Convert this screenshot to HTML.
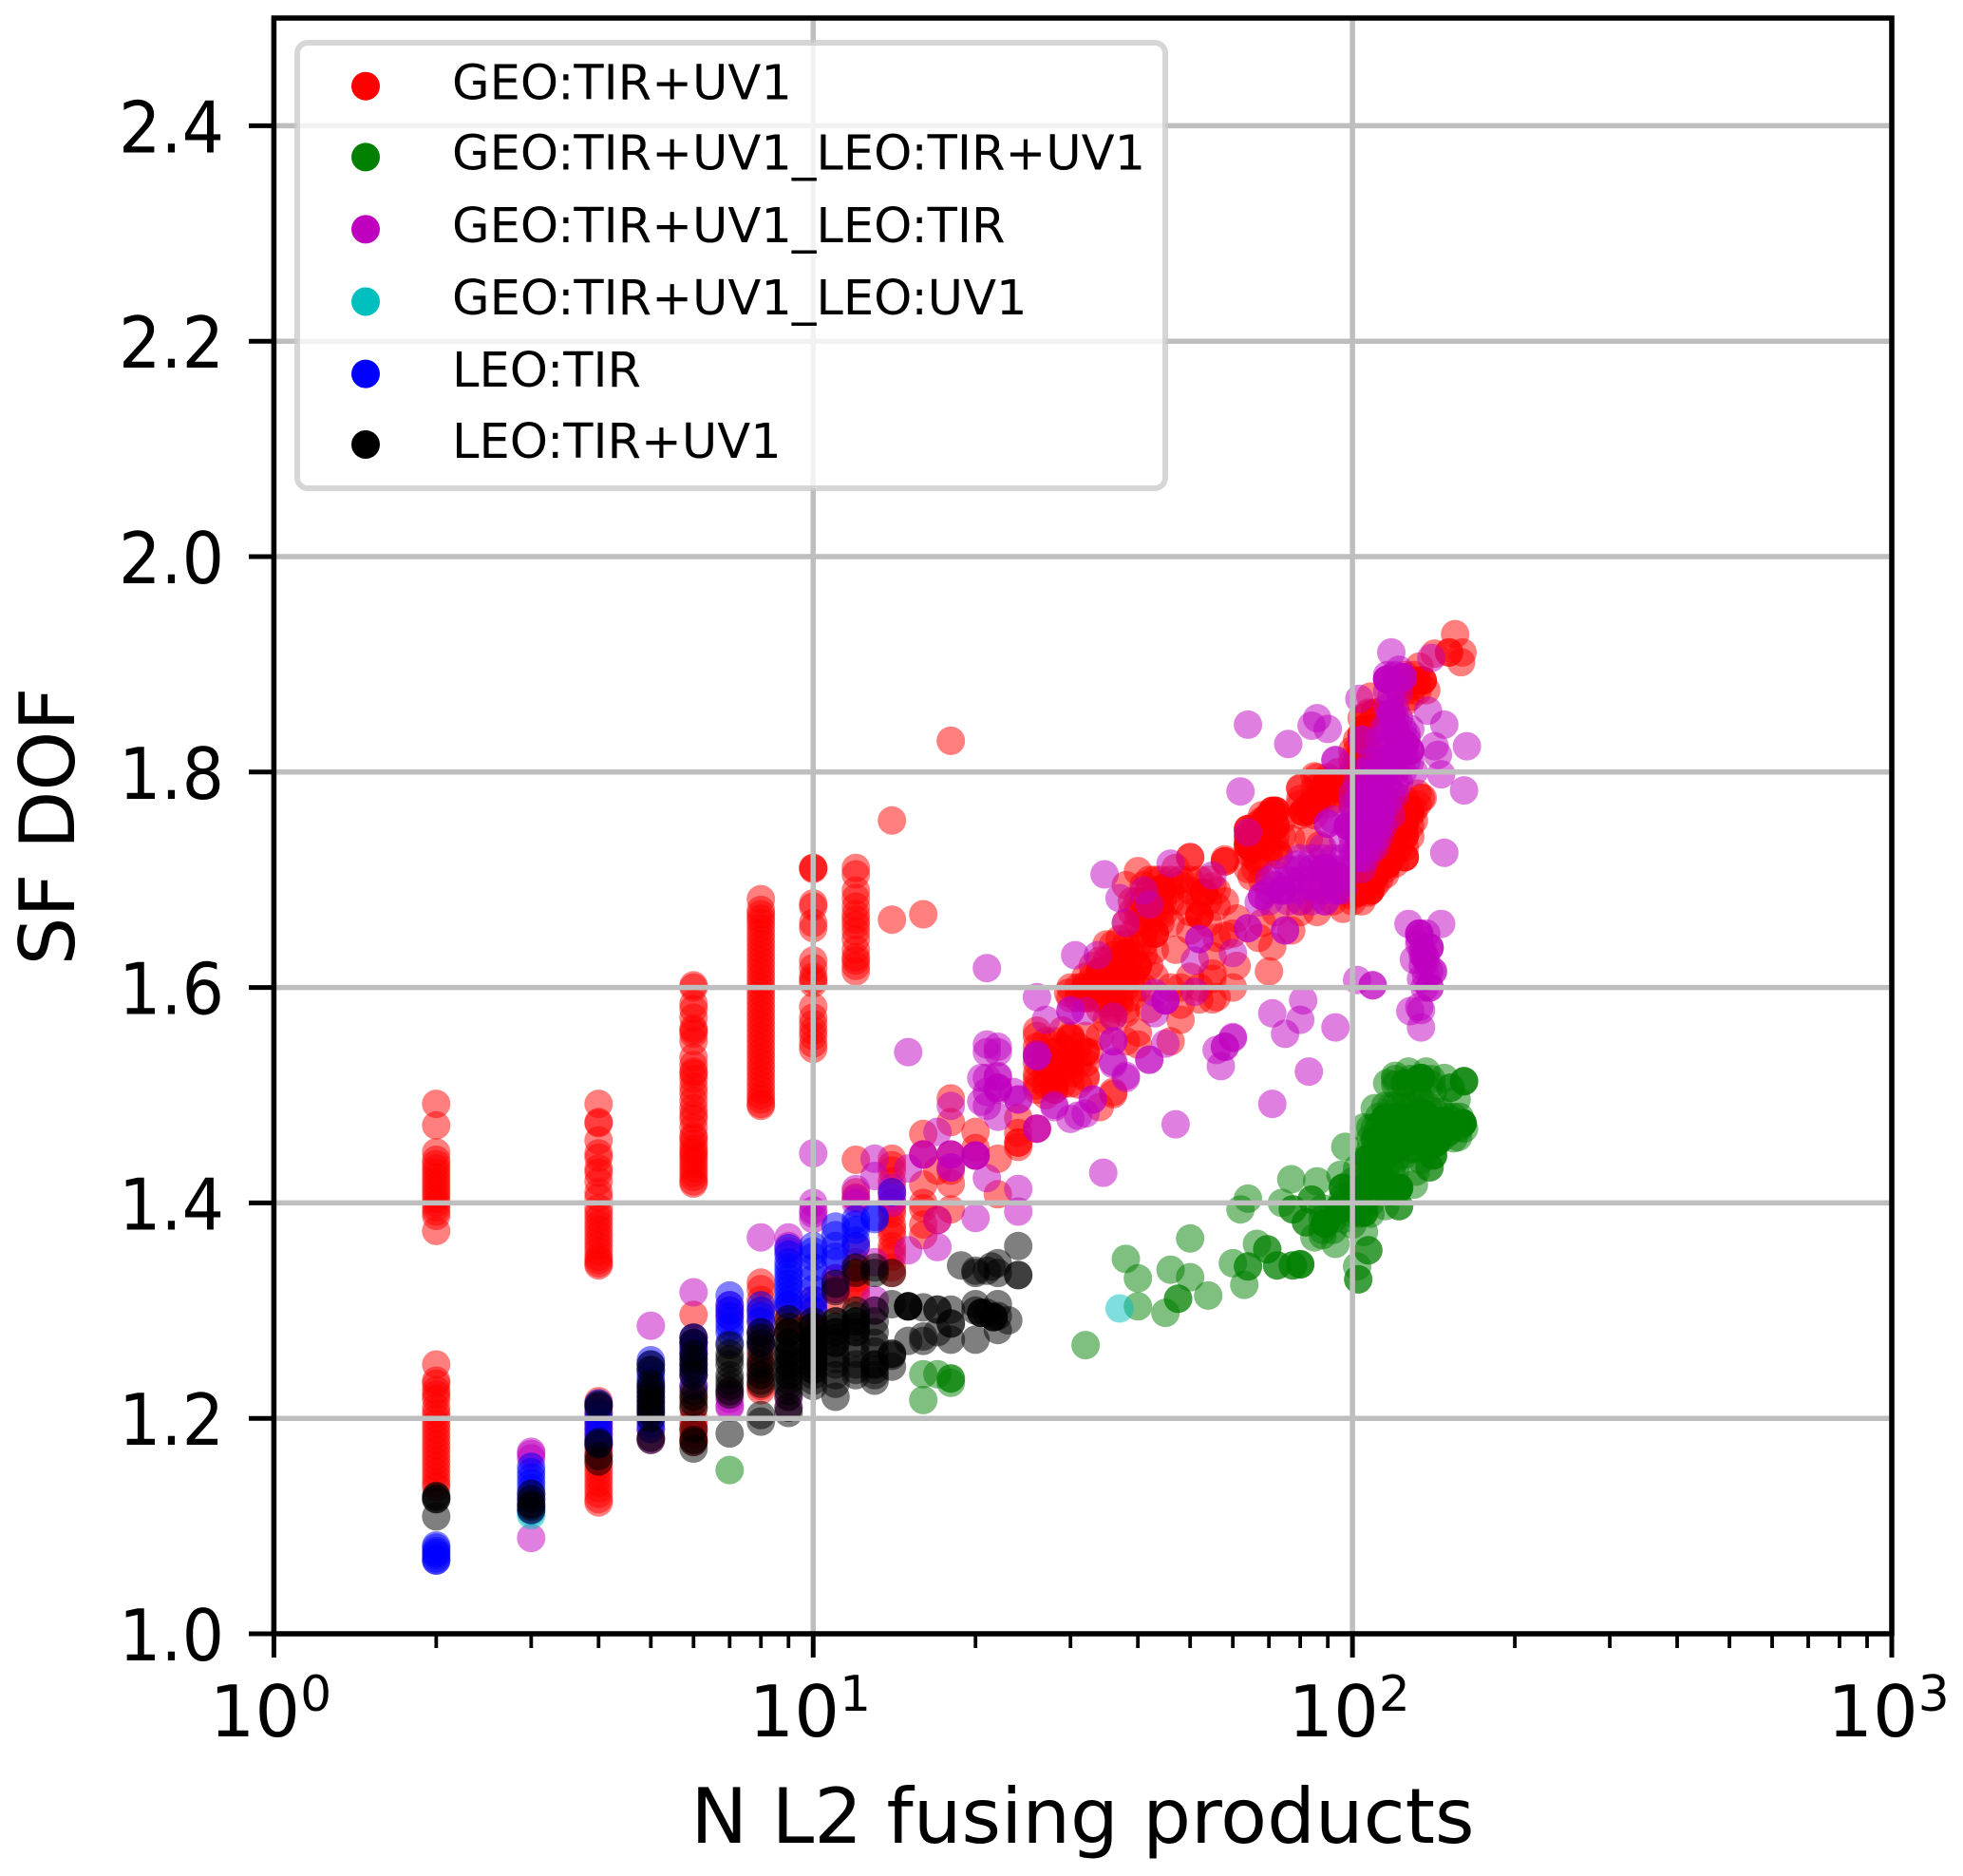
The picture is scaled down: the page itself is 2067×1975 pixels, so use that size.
<!DOCTYPE html>
<html lang="en">
<head>
<meta charset="utf-8">
<title>SF DOF vs N L2 fusing products</title>
<style>
html,body{margin:0;padding:0;background:#fff}
svg{display:block;font-family:"DejaVu Sans","Liberation Sans",sans-serif}
</style>
</head>
<body>
<svg id="chart" xmlns="http://www.w3.org/2000/svg" width="2067" height="1975" viewBox="0 0 2067 1975">
<rect x="0" y="0" width="2067" height="1975" fill="#ffffff"/>
<g id="points"></g>
<g id="grid"></g>
<g id="legend"></g>
<g id="axes"></g>
</svg>
<script>
// Each row: first number is N L2 fusing products, the rest are SF DOF readings at that N.
const geoTirUv1 = [
[2,1.492,1.472,1.447,1.44,1.436,1.432,1.428,1.424,1.42,1.416,1.412,1.408,1.404,1.40,1.396,1.392,1.388,1.374],
[2,1.25,1.235,1.232,1.226,1.222,1.218,1.21,1.205,1.2,1.195,1.19,1.185,1.18,1.175,1.17,1.165,1.16,1.155,1.15,1.145,1.14,1.136],
[4,1.492,1.475,1.474,1.458,1.446,1.442,1.432,1.428,1.42,1.41,1.405,1.395,1.39,1.385,1.38,1.375,1.37,1.365,1.36,1.355,1.35,1.347,1.344,1.342],
[4,1.216,1.21,1.205,1.2,1.195,1.19,1.185,1.18,1.175,1.17,1.165,1.16,1.155,1.15,1.145,1.14,1.135,1.13,1.125,1.122],
[6,1.602,1.600,1.585,1.58,1.572,1.562,1.56,1.557,1.55,1.535,1.528,1.522,1.52,1.515,1.508,1.502,1.495,1.488,1.482,1.478,1.47,1.462,1.46,1.455,1.45,1.447,1.444,1.44,1.436,1.432,1.428,1.424,1.42,1.418],
[6,1.296,1.27,1.265,1.26,1.25,1.24,1.23,1.22,1.21,1.2,1.195,1.19,1.185,1.18,1.178],
[8,1.682,1.672,1.668,1.664,1.66,1.655,1.65,1.645,1.64,1.635,1.63,1.625,1.62,1.615,1.61,1.605,1.6,1.595,1.59,1.585,1.58,1.575,1.57,1.565,1.56,1.555,1.55,1.545,1.54,1.535,1.53,1.525,1.52,1.515,1.51,1.505,1.5,1.496,1.492,1.49],
[8,1.326,1.32,1.31,1.30,1.29,1.28,1.27,1.26,1.25,1.24,1.23,1.226],
[10,1.711,1.711,1.71,1.678,1.675,1.66,1.655,1.625,1.618,1.61,1.607,1.604,1.582,1.572,1.566,1.56,1.555,1.548,1.543],
[10,1.31,1.3,1.29,1.28,1.27,1.26],
[9,1.3,1.29,1.28],
[11,1.33,1.32,1.31],
[12,1.711,1.705,1.69,1.683,1.675,1.668,1.663,1.658,1.652,1.645,1.635,1.628,1.625,1.62,1.615],
[12,1.44,1.41,1.405,1.36,1.345,1.34,1.335,1.33,1.325,1.32,1.315],
[14,1.755,1.663,1.441,1.435,1.43,1.42,1.41,1.40,1.39,1.38,1.37,1.36,1.35,1.34,1.335,1.395,1.375,1.355],
[16,1.668,1.464,1.445,1.417,1.40,1.395,1.37,1.38],
[17,1.384,1.43],
[18,1.829,1.497,1.475,1.445,1.43,1.418,1.394],
[20,1.466,1.451,1.444],
[22,1.441,1.408],
[24,1.479,1.465,1.456,1.456,1.452],
[26,1.509,1.555,1.538,1.52,1.505,1.469,1.53,1.545,1.515,1.56],
[27,1.529,1.529,1.51,1.52,1.535,1.55,1.50],
[28,1.54,1.54,1.52,1.52,1.52,1.514,1.505,1.505,1.53,1.55,1.51,1.525],
[29,1.53,1.52,1.545,1.51,1.56],
[29.7,1.595],
[30,1.553,1.553,1.538,1.529,1.529,1.511,1.53,1.52,1.54,1.555,1.60,1.59],
[31,1.60,1.59,1.53,1.545,1.51],
[32,1.602,1.59,1.54,1.54,1.518,1.516,1.60,1.61,1.59,1.53,1.555],
[32.5,1.54],
[33,1.602,1.6,1.59,1.61,1.60,1.595,1.62],
[34,1.615,1.615,1.615,1.489,1.60,1.61,1.625,1.59,1.58,1.555],
[35,1.60,1.615,1.625,1.585,1.64,1.57],
[36,1.62,1.62,1.62,1.602,1.602,1.602,1.591,1.591,1.58,1.573,1.503,1.501,1.605,1.63,1.64,1.61,1.595],
[37,1.61,1.625,1.59,1.585,1.645],
[38,1.695,1.632,1.632,1.632,1.61,1.605,1.576,1.58,1.55,1.61,1.62,1.64,1.60,1.66],
[39,1.591,1.61,1.63,1.61,1.65,1.67,1.68],
[40,1.708,1.62,1.62,1.62,1.558,1.547,1.64,1.66,1.67,1.68,1.60],
[41,1.64,1.6,1.68,1.665,1.65,1.695,1.63],
[42,1.66,1.58,1.69,1.70,1.67,1.62],
[43,1.65,1.65,1.65,1.635,1.61,1.69,1.70,1.67],
[44,1.68,1.67,1.66,1.70],
[44.5,1.692,1.692,1.692,1.68,1.668],
[46,1.55,1.6,1.68,1.69,1.70,1.66],
[47,1.711,1.635],
[48,1.57,1.584,1.6,1.695,1.68,1.70],
[50,1.721,1.721,1.653,1.61,1.69,1.70,1.67],
[52,1.667,1.667,1.667,1.589,1.6,1.70,1.68],
[53,1.688,1.688,1.688],
[54,1.68,1.66,1.70],
[55,1.694,1.613,1.629,1.608,1.589],
[56,1.646,1.591,1.69,1.675],
[58,1.717,1.717,1.719,1.648,1.68],
[60,1.6,1.65],
[61,1.664,1.62],
[64,1.732,1.732,1.732,1.747,1.747,1.747,1.74,1.74,1.725,1.71,1.735],
[65,1.729,1.729,1.729,1.703],
[66,1.75,1.735,1.745,1.72,1.71],
[67,1.716,1.646],
[68,1.755,1.74,1.73,1.76,1.66,1.70],
[69,1.756,1.756,1.756],
[70,1.615,1.76,1.745,1.73,1.725],
[71,1.764,1.764,1.764,1.638],
[72,1.764,1.764,1.764,1.75,1.75,1.75,1.74,1.73,1.67],
[73,1.723,1.723],
[74,1.755,1.74],
[77,1.738,1.653],
[80,1.785,1.785,1.77,1.76,1.775,1.68,1.67],
[81,1.763,1.763,1.763],
[83,1.764,1.764,1.764,1.738],
[84,1.77,1.77,1.77],
[85,1.796,1.76,1.775,1.785,1.69],
[86,1.795,1.773,1.773,1.773,1.67],
[87,1.732],
[88,1.78,1.775,1.79],
[89,1.787,1.787,1.787],
[90,1.795,1.78,1.77],
[92,1.785,1.785,1.785,1.68,1.70],
[94,1.80,1.785,1.775],
[96,1.673,1.79,1.78],
[100,1.697,1.697,1.697,1.685,1.79,1.80,1.78,1.77,1.82,1.81,1.69,1.68,1.70],
[102,1.688,1.688,1.688,1.83,1.82,1.81,1.80],
[104,1.835,1.835,1.835,1.805,1.805,1.82,1.85,1.69,1.70,1.71,1.68],
[105,1.84,1.84,1.84],
[106,1.826,1.826,1.826,1.695,1.72],
[107,1.853,1.855,1.803,1.697,1.697,1.697,1.688],
[108,1.69,1.69,1.69,1.84,1.82,1.87],
[110,1.855,1.855,1.703,1.703,1.703,1.715,1.695,1.73],
[112,1.71,1.70,1.725,1.74],
[115,1.738,1.717,1.717,1.717,1.73,1.71,1.745,1.72,1.705],
[116,1.714,1.714,1.714],
[118,1.72,1.735,1.75],
[120,1.74,1.725,1.76,1.715],
[122,1.73,1.75,1.77],
[123,1.764,1.764,1.764],
[125,1.752,1.752,1.752,1.741,1.741,1.741,1.721,1.721,1.721,1.73,1.765,1.775,1.89,1.875,1.865],
[128,1.765,1.765,1.75,1.74,1.76,1.885,1.87],
[130,1.765,1.755,1.88,1.89],
[132,1.78,1.77,1.885,1.875],
[133,1.898],
[134,1.776],
[135,1.885,1.885,1.885,1.776],
[137,1.876],
[142,1.91],
[151,1.911,1.911],
[155,1.928],
[159,1.902],
[160,1.911]
];
const geoTirUv1LeoTirUv1 = [
[7,1.152],[16,1.241,1.217],[17,1.241],[18,1.237,1.237,1.233],
[32,1.268],[38,1.348],[40,1.33,1.304],[45,1.298],[46,1.338],[47.5,1.311,1.311],
[50,1.331,1.367],[54,1.314],[60,1.344],[62,1.394],[63,1.324],[64,1.341,1.341,1.404],
[66.5,1.362],[69.5,1.357,1.357],[72.5,1.342,1.342],[74,1.4],[77,1.422],[77.5,1.342,1.342,1.394,1.394],
[80,1.343,1.343,1.343],[82,1.382,1.382],[84,1.403,1.403],[85,1.368],[86,1.42],
[88,1.385,1.375,1.37,1.395],[89,1.381,1.381,1.381,1.381,1.381],[92,1.385,1.375,1.39],[93,1.362],[94,1.394,1.394,1.394],[95,1.426],
[96,1.414,1.414,1.414,1.40,1.395,1.385,1.405],[97,1.452],[100,1.41,1.40,1.39,1.42,1.38],[102,1.432,1.341],[102.5,1.329,1.329],[103,1.40,1.41,1.39],
[105,1.373,1.391,1.391,1.391,1.414,1.414,1.414,1.414,1.47,1.44,1.43,1.42,1.40],[107,1.356,1.356,1.441,1.441,1.441,1.417,1.417,1.417],
[108,1.47,1.46,1.45,1.43,1.42,1.40,1.39],[110,1.488,1.459,1.459,1.47,1.45,1.44,1.43,1.42,1.41],[112,1.423,1.423,1.423,1.423,1.48,1.47,1.46,1.45,1.44,1.43],[114,1.414,1.414,1.414],
[115,1.397,1.479,1.479,1.479,1.479,1.459,1.459,1.459,1.459,1.459,1.444,1.444,1.444,1.444,1.49,1.47,1.465,1.45,1.43,1.42],
[116,1.511],[118,1.49,1.475,1.465,1.45,1.44,1.43,1.41],[120,1.518,1.45,1.45,1.45,1.49,1.48,1.47,1.46,1.44,1.43,1.51,1.515],[121,1.412,1.412,1.412,1.412,1.412],
[122,1.397,1.397,1.414,1.414,1.414,1.414,1.49,1.48,1.47,1.46,1.45],[124,1.479,1.479,1.479,1.479,1.479,1.459,1.459,1.459,1.459],
[125,1.511,1.511,1.49,1.47,1.465,1.455,1.445],[127,1.522],[128,1.49,1.48,1.47,1.46,1.45,1.51,1.515],[130,1.417,1.49,1.48,1.47,1.46,1.45],[131,1.429],[132,1.465,1.465,1.465,1.465,1.465,1.515,1.505],
[134,1.516,1.516,1.516,1.516,1.495,1.485,1.475,1.46,1.45,1.44],[136,1.482,1.482,1.482,1.482,1.482],[137,1.522],[138,1.49,1.48,1.47,1.46,1.45],
[139,1.433,1.433],[140,1.51,1.515],[141,1.503,1.444,1.444,1.444],[142,1.485,1.475,1.465],[143,1.456,1.456,1.456,1.456],[146,1.485,1.47,1.46],
[148,1.516,1.476,1.476,1.476,1.476,1.476],[150,1.465,1.465,1.48,1.47],[152,1.507,1.507],[154,1.48,1.47,1.46],
[156,1.496],[157,1.461],[158,1.48,1.47],[160,1.474,1.474,1.474,1.474,1.474],[161,1.513,1.513,1.513,1.469]
];
const geoTirUv1LeoTir = [
[3,1.169,1.167,1.163,1.089],[5,1.286,1.19,1.182,1.18],[6,1.317,1.275,1.27],
[7,1.305,1.30,1.295,1.225,1.218,1.212,1.21],[8,1.368],[9,1.368,1.36,1.355,1.22,1.21],
[10,1.446,1.4,1.393,1.39,1.385],[11,1.33,1.325,1.32],[12,1.413,1.404,1.4],
[13,1.441,1.425,1.345,1.31,1.30],[14,1.414,1.405,1.40],[15,1.54,1.432,1.356],
[16,1.445,1.445],[17,1.466,1.384,1.359],[18,1.49,1.445,1.445,1.433,1.433],
[20,1.444,1.444,1.444,1.386],[20.5,1.516,1.494],[21,1.618,1.547,1.516,1.503,1.49,1.54,1.423],
[22,1.545,1.517,1.505,1.518,1.48,1.507,1.507,1.54],[23.5,1.503],[24,1.496,1.496,1.413,1.392],
[26,1.591,1.538,1.536,1.536,1.469,1.469],[27,1.57],[28,1.491,1.489],[30,1.579,1.578,1.478],
[30.6,1.63],[31,1.481],[32,1.578,1.483],[33,1.496,1.496],[33.7,1.63],[34.5,1.428],
[34.7,1.705],[36,1.573,1.55,1.55,1.529,1.531],[37,1.683],[38,1.66,1.516,1.518],
[41,1.69],[42,1.677,1.533,1.533],[43,1.595,1.576],[45,1.588,1.588,1.588,1.548],[46,1.715],[47,1.473],
[51,1.625,1.596],[52,1.645,1.645],[55,1.704],[56,1.542],[57,1.527],[58,1.545,1.545],[60,1.632,1.554,1.553],
[62,1.782],[64,1.844,1.744,1.655,1.655],[67,1.679],[68,1.685,1.685],[70,1.69,1.68,1.70],[71,1.576,1.492],[72,1.695,1.705],[74,1.69,1.69,1.69],
[75,1.653,1.653,1.557],[76,1.826,1.70,1.69,1.68,1.71],[77,1.699],[79,1.714],[80,1.57,1.69,1.70,1.71,1.68,1.72],[81,1.588],[83,1.522],
[84,1.843,1.694,1.694,1.70,1.72,1.71,1.68],[86,1.85],[88,1.70,1.72,1.73,1.69,1.71],[89,1.711,1.711,1.711,1.68,1.68],[90,1.84,1.752,1.752],
[92,1.756,1.72,1.69,1.71,1.70],[93,1.811,1.811,1.563],[94,1.703,1.703,1.703,1.69,1.69],[96,1.738,1.71,1.70,1.69,1.72],[98,1.75,1.75,1.75],
[100,1.78,1.76,1.74,1.72,1.75,1.77,1.73],[102,1.607,1.79,1.77,1.75,1.73,1.72],[103,1.868,1.738,1.738,1.738,1.738,1.738],[104,1.83,1.83,1.80,1.78,1.76,1.74,1.72,1.71],[106,1.761,1.761,1.761,1.761,1.761,1.779,1.779,1.779,1.80,1.785,1.77,1.75,1.73,1.72,1.74],
[108,1.81,1.79,1.77,1.76,1.75,1.74,1.73],[109,1.602,1.602],[110,1.787,1.787,1.787,1.787,1.787,1.81,1.80,1.77,1.76,1.75,1.74,1.73],[112,1.811,1.773,1.773,1.773,1.773,1.773,1.83,1.80,1.785,1.76,1.75,1.74],
[113,1.761,1.761,1.761],[114,1.84,1.82,1.80,1.78,1.77,1.75],[116,1.886,1.886,1.886,1.886,1.86,1.84,1.83,1.81,1.79,1.77,1.89,1.875],[118,1.911,1.855,1.855,1.855,1.855,1.814,1.814,1.814,1.87,1.84,1.83,1.80,1.78,1.76],
[120,1.84,1.84,1.84,1.84,1.779,1.86,1.85,1.82,1.80,1.79,1.89,1.88],[122,1.85,1.83,1.81,1.79,1.895,1.875],[124,1.888,1.888,1.888,1.84,1.82,1.80],[125,1.826,1.826,1.826,1.826,1.826],[126,1.83,1.81,1.835],
[127,1.659],[128,1.82,1.82,1.82,1.578,1.84,1.81],[130,1.80,1.626],[133,1.65,1.65,1.65,1.582,1.645,1.64],
[134,1.608,1.579,1.563],[135,1.635,1.63,1.62],[136,1.629,1.629,1.60],[137,1.625,1.65,1.61],[138,1.857],[139,1.637,1.637,1.637,1.6,1.6,1.615],
[140,1.906],[141,1.615,1.615],[142,1.824],[144,1.816],[146,1.798,1.659],[148,1.844,1.725],
[161,1.783],[163,1.824]
];
const geoTirUv1LeoUv1 = [
[3,1.11,1.113],[37,1.302]
];
const leoTir = [
[2,1.082,1.08,1.077,1.075,1.073,1.07,1.068,1.068],
[3,1.155,1.15,1.145,1.14,1.135,1.13,1.125,1.12,1.115],
[4,1.214,1.212,1.205,1.2,1.195,1.19,1.185,1.18,1.176],
[5,1.254,1.25,1.245,1.24,1.235,1.23,1.225,1.22,1.215,1.21,1.205,1.2,1.195,1.19],
[6,1.275,1.27,1.265,1.26,1.255,1.25,1.245,1.24,1.23],
[7,1.314,1.305,1.30,1.295,1.29,1.285,1.28,1.27],
[8,1.305,1.30,1.295,1.29,1.28,1.27],
[9,1.358,1.352,1.345,1.34,1.335,1.33,1.325,1.32,1.315,1.31,1.305,1.305],
[10,1.36,1.355,1.35,1.34,1.33,1.32,1.31,1.305,1.3],
[11,1.378,1.37,1.36,1.35,1.345],
[12,1.385,1.38,1.375,1.365,1.36],
[13,1.387,1.385],
[14,1.41]
];
const leoTirUv1 = [
[2,1.128,1.127,1.125,1.125,1.109],
[3,1.13,1.125,1.12,1.115,1.118],
[4,1.213,1.211,1.178,1.176,1.165,1.16],
[5,1.25,1.245,1.232,1.228,1.224,1.22,1.216,1.212,1.208,1.205,1.2,1.182,1.18],
[6,1.275,1.27,1.26,1.255,1.25,1.245,1.24,1.225,1.22,1.215,1.21,1.19,1.18,1.178,1.172],
[7,1.268,1.26,1.255,1.25,1.24,1.235,1.23,1.225,1.222,1.186],
[8,1.28,1.275,1.27,1.265,1.255,1.25,1.245,1.24,1.235,1.232,1.203,1.197],
[9,1.292,1.285,1.28,1.27,1.265,1.26,1.255,1.25,1.245,1.24,1.235,1.23,1.225,1.22,1.21,1.205,1.28,1.27,1.26,1.25,1.24],
[10,1.29,1.285,1.28,1.275,1.27,1.265,1.26,1.255,1.25,1.245,1.24,1.235,1.23,1.285,1.275,1.265,1.255,1.245,1.27,1.26,1.25],
[11,1.325,1.318,1.29,1.285,1.28,1.275,1.27,1.26,1.255,1.25,1.24,1.232,1.22,1.29,1.28,1.27],
[12,1.34,1.335,1.30,1.295,1.29,1.285,1.28,1.25,1.245,1.24,1.29,1.28,1.27,1.26],
[13,1.34,1.335,1.30,1.29,1.28,1.27,1.262,1.25,1.24,1.235,1.25,1.245],
[14,1.335,1.306,1.26,1.26,1.258,1.248],
[15,1.304,1.304,1.304,1.304,1.272],
[16,1.303,1.276,1.272],
[17,1.301,1.301,1.28],
[18,1.301,1.288,1.288,1.273],
[18.8,1.342],
[20,1.337,1.335,1.306,1.273,1.30],
[20.5,1.298,1.298,1.298],
[21,1.337,1.298],
[21.4,1.341],
[21.6,1.294,1.294,1.294],
[22,1.344,1.335,1.306,1.295,1.282],
[23,1.291],
[24,1.36,1.333,1.333]
];
const seriesNames = ['GEO:TIR+UV1','GEO:TIR+UV1_LEO:TIR+UV1','GEO:TIR+UV1_LEO:TIR','GEO:TIR+UV1_LEO:UV1','LEO:TIR','LEO:TIR+UV1'];
const seriesKeys = ['geo-tir-uv1','geo-tir-uv1-leo-tir-uv1','geo-tir-uv1-leo-tir','geo-tir-uv1-leo-uv1','leo-tir','leo-tir-uv1'];
const seriesColors = ['#ff0000','#008000','#bf00bf','#00bfbf','#0000ff','#000000'];
const seriesData = [geoTirUv1, geoTirUv1LeoTirUv1, geoTirUv1LeoTir, geoTirUv1LeoUv1, leoTir, leoTirUv1];
const yTickValues = [1.0,1.2,1.4,1.6,1.8,2.0,2.2,2.4];
const yTickLabels = ['1.0','1.2','1.4','1.6','1.8','2.0','2.2','2.4'];
const xDecades = [0,1,2,3];
const xMinorMultipliers = [2,3,4,5,6,7,8,9];

const NS = 'http://www.w3.org/2000/svg';
const plotLeft = 288.4, plotRight = 1992, plotTop = 19, plotBottom = 1720;
const xDomainLog = [0, 3], yDomain = [1.0, 2.5];
function xScale(n){ return plotLeft + (Math.log10(n) - xDomainLog[0]) / (xDomainLog[1] - xDomainLog[0]) * (plotRight - plotLeft); }
function yScale(v){ return plotBottom - (v - yDomain[0]) / (yDomain[1] - yDomain[0]) * (plotBottom - plotTop); }
function make(tag, attrs, parent){
  const el = document.createElementNS(NS, tag);
  for (const k in attrs) el.setAttribute(k, attrs[k]);
  parent.appendChild(el);
  return el;
}

const pointsRoot = document.getElementById('points');
seriesData.forEach(function(rows, s){
  const g = make('g', {fill: seriesColors[s], 'fill-opacity': 0.5}, pointsRoot);
  
  
  rows.forEach(function(row){
    const n = row[0];
    for (let i = 1; i < row.length; i++) {
      const c = make('circle', {cx: xScale(n).toFixed(1), cy: yScale(row[i]).toFixed(1), r: 15}, g);
      
      
    }
  });
});

const gridRoot = document.getElementById('grid');
yTickValues.forEach(function(v){
  const l = make('line', {x1: plotLeft, x2: plotRight, y1: yScale(v), y2: yScale(v), stroke: '#bebebe', 'stroke-width': 5.5}, gridRoot);
  
  
});
xDecades.forEach(function(d){
  const x = xScale(Math.pow(10, d));
  const l = make('line', {x1: x, x2: x, y1: plotTop, y2: plotBottom, stroke: '#bebebe', 'stroke-width': 5.5}, gridRoot);
  
  
});

const legendRoot = document.getElementById('legend');
const legendBox = make('rect', {x: 313, y: 45, width: 914, height: 469, rx: 11, ry: 11, fill: '#ffffff', 'fill-opacity': 0.8, stroke: '#cccccc', 'stroke-opacity': 0.8, 'stroke-width': 6}, legendRoot);


const legendMarkerY = [90.7,165.4,241.4,317.5,393.6,468];
const legendTextY = [104.6,178.6,255,331,407,482];
seriesNames.forEach(function(name, s){
  const m = make('circle', {cx: 385, cy: legendMarkerY[s], r: 15, fill: seriesColors[s]}, legendRoot);
  
  
  const t = make('text', {x: 476, y: legendTextY[s], 'font-size': 51.1, fill: '#000'}, legendRoot);
  
  
  t.textContent = name;
});

const axesRoot = document.getElementById('axes');
yTickValues.forEach(function(v, i){
  const y = yScale(v);
  const tick = make('line', {x1: 262, x2: plotLeft, y1: y, y2: y, stroke: '#000', 'stroke-width': 5}, axesRoot);
  
  
  const t = make('text', {x: 236, y: y + 28, 'font-size': 75, 'text-anchor': 'end', fill: '#000', textLength: 111, lengthAdjust: 'spacingAndGlyphs'}, axesRoot);
  
  
  t.textContent = yTickLabels[i];
});
xDecades.forEach(function(d, i){
  const x = xScale(Math.pow(10, d));
  const tick = make('line', {x1: x, x2: x, y1: plotBottom, y2: 1745, stroke: '#000', 'stroke-width': 5}, axesRoot);
  
  
  const t = make('text', {x: x - 3.5, y: 1828, 'font-size': 75, 'text-anchor': 'middle', fill: '#000'}, axesRoot);
  
  
  t.appendChild(document.createTextNode('10'));
  const sup = make('tspan', {dy: -27, 'font-size': 52}, t);
  sup.textContent = String(d);
  if (i < xDecades.length - 1) {
    xMinorMultipliers.forEach(function(mult){
      const mx = xScale(mult * Math.pow(10, d));
      const mt = make('line', {x1: mx, x2: mx, y1: plotBottom, y2: 1735, stroke: '#000', 'stroke-width': 3.8}, axesRoot);
      
      
    });
  }
});
const frame = make('rect', {x: plotLeft, y: plotTop, width: plotRight - plotLeft, height: plotBottom - plotTop, fill: 'none', stroke: '#000', 'stroke-width': 5.5}, axesRoot);


const xTitle = make('text', {x: 1140, y: 1940, 'font-size': 80, 'text-anchor': 'middle', fill: '#000'}, axesRoot);


xTitle.textContent = 'N L2 fusing products';
const yTitle = make('text', {x: 0, y: 0, 'font-size': 80, 'text-anchor': 'middle', fill: '#000', transform: 'translate(78 870) rotate(-90)'}, axesRoot);


yTitle.textContent = 'SF DOF';
</script>
</body>
</html>
